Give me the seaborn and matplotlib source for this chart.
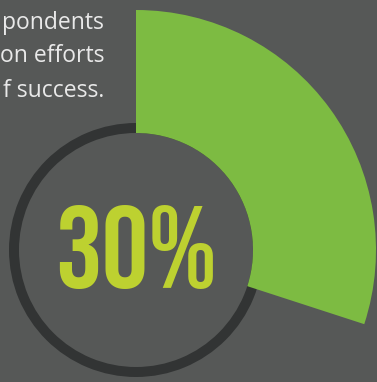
import matplotlib
matplotlib.use("Agg")
import matplotlib.pyplot as plt
import seaborn as sns

# ---- data ----
share_values = [30, 70]
share_pct = share_values[0]
caption_lines = ["pondents", "on efforts", "f success."]

BG = "#565857"
GREEN = "#7dbb42"
YELLOW = "#bdd130"
RING = "#323434"
TXT = "#e9e9e9"

sns.set_theme(style="white", rc={"figure.facecolor": BG, "axes.facecolor": BG})

fig = plt.figure(figsize=(3.77, 3.82), dpi=100)
ax = fig.add_axes([0, 0, 1, 1])
ax.set_facecolor(BG)

W, H = 377, 382
cx, cy = 136, H - 250

# dark ring behind everything
ax.pie([100], colors=[RING], radius=127, center=(cx, cy), startangle=90,
       wedgeprops=dict(width=10, linewidth=0), frame=False)
# green share wedge, clockwise from 12 o'clock
ax.pie(share_values, colors=[GREEN, "none"], radius=240, center=(cx, cy),
       startangle=90, counterclock=False,
       wedgeprops=dict(width=123, linewidth=0), frame=False)

ax.set_xlim(0, W)
ax.set_ylim(0, H)
ax.set_aspect("auto")
ax.axis("off")

ax.text(cx, H - 288, f"{share_pct}%", ha="center", va="baseline",
        fontsize=84, family="Bebas Neue", color=YELLOW)

baselines = [29, 62, 97]
for line, b in zip(caption_lines, baselines):
    ax.text(104, H - b, line, ha="right", va="baseline", fontsize=16.5,
            family="Open Sans", color=TXT)

fig.savefig("out.png", dpi=100, facecolor=BG)
